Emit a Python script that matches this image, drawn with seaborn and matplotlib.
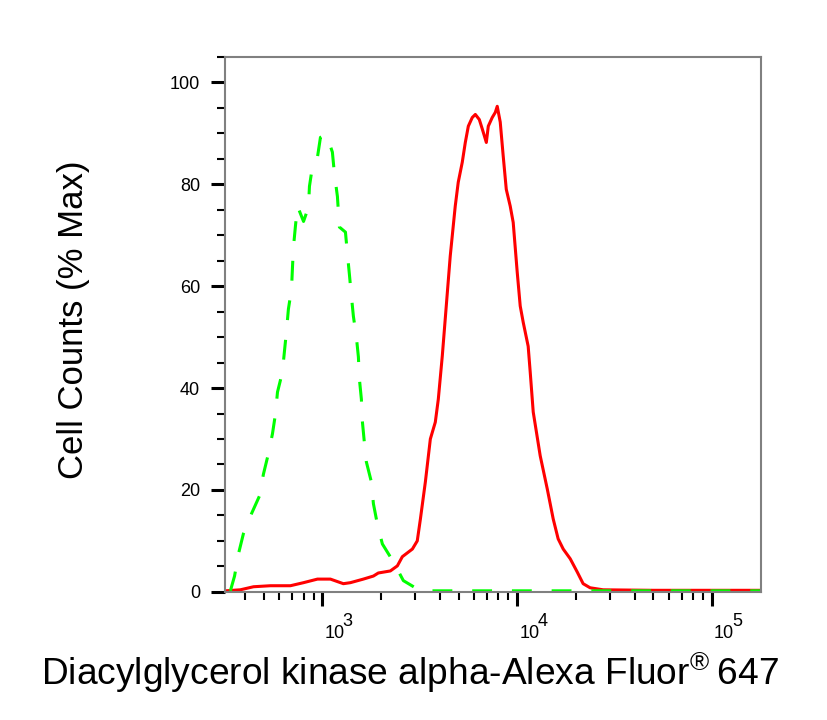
import pandas as pd
import matplotlib
matplotlib.use('Agg')
import matplotlib.pyplot as plt
import matplotlib.ticker as mticker
import seaborn as sns

# control histogram (green dashed)
control_fluor = [337, 354, 371, 393, 432, 475, 498, 528, 554, 574,
                 588, 623, 638, 654, 669, 694, 702, 710, 727, 745,
                 800, 848, 858, 889, 943, 977, 1049, 1125, 1153, 1194,
                 1222, 1313, 1344, 1375, 1409, 1442, 1494, 1530, 1548, 1585,
                 1603, 1641, 1681, 1783, 1827, 1914, 2031, 2313, 2603, 3184,
                 5000, 10000, 30000, 100000, 178000]
control_pct = [0.2, 3.1, 7.5, 11.4, 15.3, 18.8, 23.1, 27.1, 31.0, 34.9,
               39.2, 43.1, 47.1, 51.2, 55.5, 59.4, 63.7, 67.6, 71.8, 75.7,
               72.7, 75.5, 79.6, 83.5, 85.3, 89.2, 89.8, 86.3, 82.0, 77.6,
               71.6, 70.6, 66.3, 62.4, 58.0, 54.1, 50.0, 46.1, 41.8, 37.8,
               33.5, 29.4, 25.5, 21.6, 17.3, 13.3, 9.4, 5.9, 2.2, 0.2,
               0.2, 0.2, 0.2, 0.2, 0.2]

# stained sample histogram (red solid)
sample_fluor = [318, 379, 443, 541, 685, 800, 943, 1099, 1281, 1392,
                1622, 1827, 1936, 2232, 2425, 2572, 2896, 3068, 3184, 3377,
                3581, 3797, 3934, 4124, 4530, 4806, 4980, 5221, 5413, 5610,
                5878, 6095, 6388, 6622, 6940, 7103, 7442, 7715, 7895, 8180,
                8474, 8785, 9205, 9535, 10000, 10359, 10733, 11380, 11660, 12080,
                13120, 14260, 15300, 16220, 17220, 18700, 20320, 21790, 23650, 27600,
                50000, 100000, 178000]
sample_pct = [0.2, 0.4, 1.0, 1.2, 1.2, 1.8, 2.5, 2.5, 1.6, 1.8,
              2.5, 3.1, 3.7, 4.1, 5.1, 6.9, 8.4, 10.0, 14.3, 21.6,
              30.0, 33.3, 37.8, 46.3, 65.9, 75.7, 80.4, 84.3, 88.2, 91.4,
              93.1, 93.7, 92.7, 90.8, 88.2, 91.4, 93.1, 94.1, 95.3, 92.2,
              85.5, 79.0, 75.7, 72.5, 62.7, 56.1, 52.9, 48.2, 43.1, 35.3,
              26.7, 20.2, 14.3, 10.4, 8.4, 6.5, 3.9, 1.6, 0.8, 0.4,
              0.3, 0.3, 0.3]

y_major = [0, 20, 40, 60, 80, 100]
x_decades = [3, 4, 5]

sns.set_style('ticks')
plt.rcParams['font.family'] = ['Liberation Sans', 'DejaVu Sans']
plt.rcParams['mathtext.default'] = 'regular'

control = pd.DataFrame({'fluor': control_fluor, 'pct': control_pct})
sample = pd.DataFrame({'fluor': sample_fluor, 'pct': sample_pct})

fig, ax = plt.subplots(figsize=(8.27, 7.2), dpi=100)
fig.subplots_adjust(left=0.272, right=0.920, bottom=0.178, top=0.921)

sns.lineplot(data=sample, x='fluor', y='pct', ax=ax, color='#ff0000',
             linewidth=2.2, sort=False)
sns.lineplot(data=control, x='fluor', y='pct', ax=ax, color='#00ff00',
             linewidth=2.2, linestyle=(0, (6.5, 6.5)), sort=False)

ax.set_xscale('log')
ax.set_xlim(316, 1.78e5)
ax.set_ylim(0, 105)
ax.set_yticks(y_major)
ax.yaxis.set_minor_locator(mticker.MultipleLocator(5))
ax.set_xticks([10 ** d for d in x_decades])
ax.xaxis.set_minor_locator(mticker.LogLocator(base=10, subs=range(2, 10)))
ax.xaxis.set_major_formatter(mticker.NullFormatter())
ax.xaxis.set_minor_formatter(mticker.NullFormatter())

# FlowJo-style decade labels: "10" left-aligned at the tick, full-size exponent
xform = ax.get_xaxis_transform()
for d in x_decades:
    ax.annotate('10', xy=(10 ** d, -0.086), xycoords=xform, xytext=(1.4, 0),
                textcoords='offset points', ha='left', va='baseline',
                fontsize=13, color='black', annotation_clip=False)
    ax.annotate(str(d), xy=(10 ** d, -0.086), xycoords=xform, xytext=(14.4, 8.6),
                textcoords='offset points', ha='left', va='baseline',
                fontsize=13, color='black', annotation_clip=False)

for side in ['left', 'right', 'top', 'bottom']:
    ax.spines[side].set_color('#808080')
    ax.spines[side].set_linewidth(1.5)

ax.tick_params(axis='both', which='major', length=10, width=2.2, color='black',
               labelsize=13, labelcolor='black')
ax.tick_params(axis='y', which='major', pad=8)
ax.tick_params(axis='both', which='minor', length=5.5, width=1.5, color='black')

ax.set_xlabel('Diacylglycerol kinase alpha-Alexa Fluor$^{®}$\u2009647', fontsize=26.7,
              color='black')
ax.set_ylabel('Cell Counts (% Max)', fontsize=25, color='black')
ax.xaxis.set_label_coords(0.345, -0.174)
ax.xaxis.label.set_va('baseline')
ax.yaxis.set_label_coords(-0.265, 0.508)
ax.yaxis.label.set_va('baseline')

fig.savefig('out.png', dpi=100)
